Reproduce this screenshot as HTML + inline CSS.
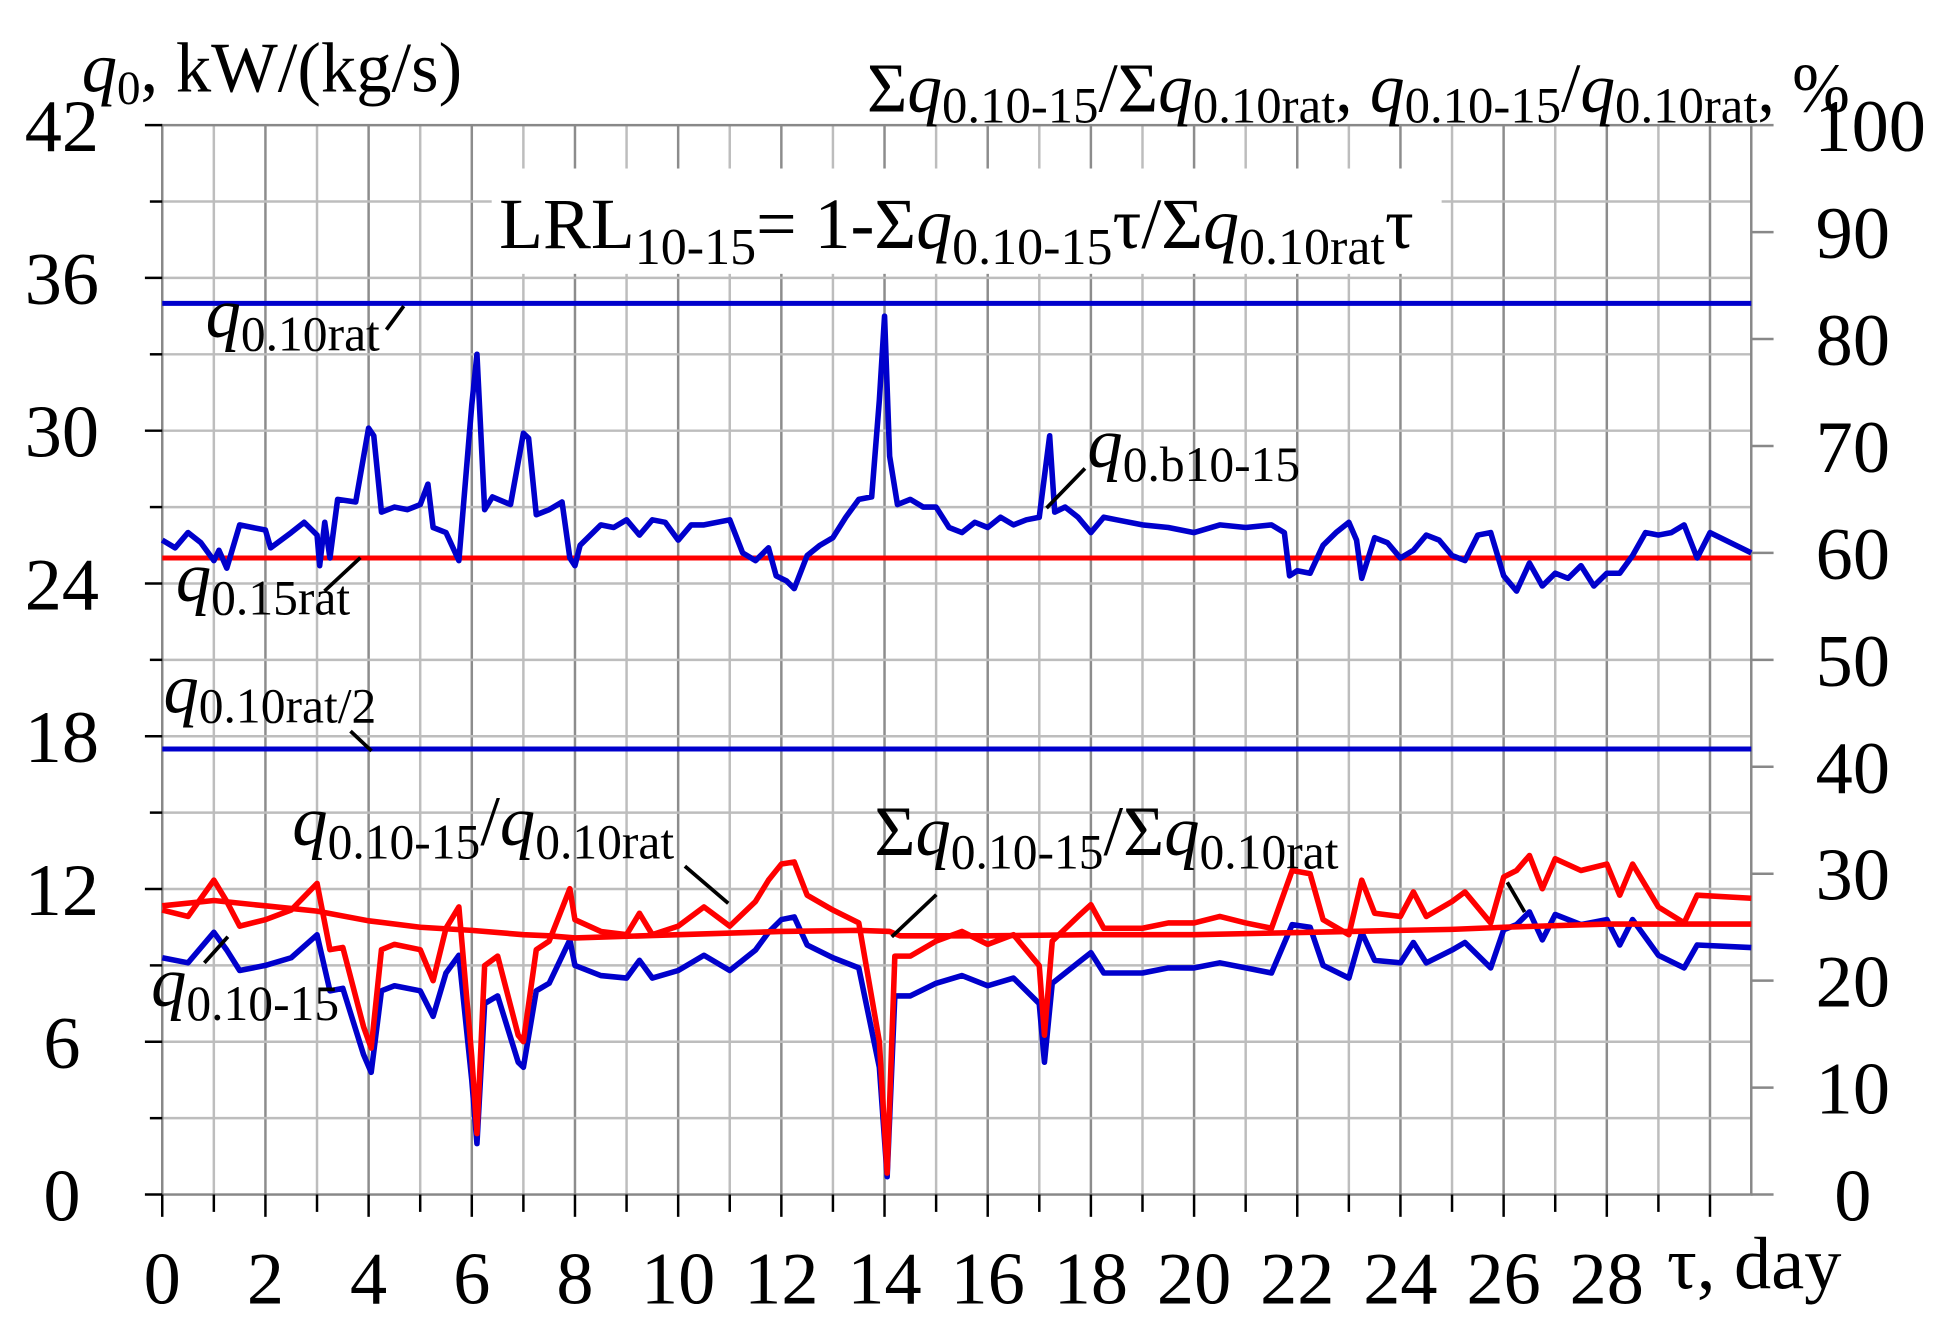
<!DOCTYPE html>
<html><head><meta charset="utf-8">
<style>
html,body{margin:0;padding:0;background:#fff;}
svg{display:block;font-family:"Liberation Serif",serif;}
</style></head>
<body>
<svg id="chart" width="1942" height="1342" viewBox="0 0 1568 1083" preserveAspectRatio="none" xmlns="http://www.w3.org/2000/svg">
<rect x="0" y="0" width="1568" height="1083" fill="#fff"/>
<g id="grid"></g>
<g id="ticks"></g>
<g id="series"></g>
<g id="labels"></g>
</svg>
<script>
// ---- data ----
const xTicks = [0,2,4,6,8,10,12,14,16,18,20,22,24,26,28];
const leftTicks = [0,6,12,18,24,30,36,42];
const rightTicks = [0,10,20,30,40,50,60,70,80,90,100];
const ratedLevels = [35.0, 25.0, 17.5]; // q0.10rat, q0.15rat, q0.10rat/2

const upperDays = [0,0.25,0.5,0.75,1.0,1.1,1.25,1.5,1.75,2.0,2.1,2.5,2.75,3.0,3.05,3.15,3.25,3.4,3.75,4.0,4.1,4.25,4.5,4.75,5.0,5.15,5.25,5.5,5.75,6.0,6.1,6.25,6.4,6.75,7.0,7.1,7.25,7.5,7.75,7.9,8.0,8.1,8.5,8.75,9.0,9.25,9.5,9.75,10.0,10.25,10.5,11.0,11.25,11.5,11.75,11.9,12.1,12.25,12.5,12.75,13.0,13.25,13.5,13.75,13.9,14.0,14.1,14.25,14.5,14.75,15.0,15.25,15.5,15.75,16.0,16.25,16.5,16.75,17.0,17.2,17.3,17.5,17.75,18.0,18.25,18.5,19.0,19.5,20.0,20.5,21.0,21.5,21.75,21.85,22.0,22.25,22.5,22.75,23.0,23.15,23.25,23.5,23.75,24.0,24.25,24.5,24.75,25.0,25.25,25.5,25.75,26.0,26.25,26.5,26.75,27.0,27.25,27.5,27.75,28.0,28.25,28.5,28.75,29.0,29.25,29.5,29.75,30.0,30.8];
const upperValues = [25.7,25.4,26.0,25.6,24.9,25.3,24.6,26.3,26.2,26.1,25.4,26.0,26.4,25.9,24.7,26.4,25.0,27.3,27.2,30.1,29.8,26.8,27.0,26.9,27.1,27.9,26.2,26.0,24.9,31.0,33.0,26.9,27.4,27.1,29.9,29.7,26.7,26.9,27.2,25.0,24.7,25.5,26.3,26.2,26.5,25.9,26.5,26.4,25.7,26.3,26.3,26.5,25.2,24.9,25.4,24.3,24.1,23.8,25.1,25.5,25.8,26.6,27.3,27.4,31.2,34.5,29.0,27.1,27.3,27.0,27.0,26.2,26.0,26.4,26.2,26.6,26.3,26.5,26.6,29.8,26.8,27.0,26.6,26.0,26.6,26.5,26.3,26.2,26.0,26.3,26.2,26.3,26.0,24.3,24.5,24.4,25.5,26.0,26.4,25.7,24.2,25.8,25.6,25.0,25.3,25.9,25.7,25.1,24.9,25.9,26.0,24.3,23.7,24.8,23.9,24.4,24.2,24.7,23.9,24.4,24.4,25.1,26.0,25.9,26.0,26.3,25.0,26.0,25.2];

const lowerDays = [0,0.5,1,1.25,1.5,2,2.5,3,3.25,3.5,3.9,4.05,4.25,4.5,5,5.25,5.5,5.75,6,6.1,6.25,6.5,6.9,7,7.25,7.5,7.9,8,8.5,9,9.25,9.5,10,10.5,11,11.5,11.75,12,12.25,12.5,13,13.5,13.9,14.05,14.2,14.5,15,15.5,16,16.5,17,17.1,17.25,17.75,18,18.25,19,19.5,20,20.5,21,21.5,21.9,22.25,22.5,23,23.25,23.5,24,24.25,24.5,25,25.25,25.75,26,26.25,26.5,26.75,27,27.5,28,28.25,28.5,29,29.5,29.75,30.8];
const lowerValues = [9.3,9.1,10.3,9.6,8.8,9.0,9.3,10.2,8.0,8.1,5.5,4.8,8.0,8.2,8.0,7.0,8.7,9.4,4.5,2.0,7.5,7.8,5.2,5.0,8.0,8.3,10.0,9.0,8.6,8.5,9.2,8.5,8.8,9.4,8.8,9.6,10.3,10.8,10.9,9.8,9.3,8.9,5.0,0.7,7.8,7.8,8.3,8.6,8.2,8.5,7.5,5.2,8.3,9.1,9.5,8.7,8.7,8.9,8.9,9.1,8.9,8.7,10.6,10.5,9.0,8.5,10.3,9.2,9.1,9.9,9.1,9.6,9.9,8.9,10.4,10.6,11.1,10.0,11.0,10.6,10.8,9.8,10.8,9.4,8.9,9.8,9.7];
const ratioPercent = [26.6,26.0,29.4,27.4,25.1,25.7,26.6,29.1,22.9,23.1,15.7,13.7,22.9,23.4,22.9,20.0,24.9,26.9,12.9,5.7,21.4,22.3,14.9,14.3,22.9,23.7,28.6,25.7,24.6,24.3,26.3,24.3,25.1,26.9,25.1,27.4,29.4,30.9,31.1,28.0,26.6,25.4,14.3,2.0,22.3,22.3,23.7,24.6,23.4,24.3,21.4,14.9,23.7,26.0,27.1,24.9,24.9,25.4,25.4,26.0,25.4,24.9,30.3,30.0,25.7,24.3,29.4,26.3,26.0,28.3,26.0,27.4,28.3,25.4,29.7,30.3,31.7,28.6,31.4,30.3,30.9,28.0,30.9,26.9,25.4,28.0,27.7];

const cumDays = [0,1,2,3,4,5,6,7,7.5,8,10,12,13.5,14.1,14.3,16,18,20,22,24,25,26,28,30.8];
const cumPercent = [27.0,27.5,27.0,26.5,25.6,25.0,24.7,24.3,24.2,24.0,24.3,24.6,24.7,24.6,24.2,24.2,24.3,24.3,24.5,24.7,24.8,25.0,25.3,25.3];

// ---- axes ----
const PL=131, PR=1414, PT=101, PB=964;
const X_MAX=30.8;
const xs = d => PL + d/X_MAX*(PR-PL);
const yL = v => PB - v/42*(PB-PT);
const yR = p => PB - p/100*(PB-PT);
const NS='http://www.w3.org/2000/svg';
function mk(tag, attrs, parent){const e=document.createElementNS(NS,tag);for(const k in attrs)e.setAttribute(k,attrs[k]);parent.appendChild(e);return e;}

const grid=document.getElementById('grid');
for(let d=1; d<=30; d++){
  const l=mk('line',{x1:xs(d),x2:xs(d),y1:PT,y2:PB,stroke:d%2===0?'#8c8c8c':'#bdbdbd','stroke-width':2},grid);
  
  
}
for(let v=3; v<42; v+=3){
  const l=mk('line',{x1:PL,x2:PR,y1:yL(v),y2:yL(v),stroke:'#bdbdbd','stroke-width':2},grid);
  
  
}
const fr=mk('rect',{x:PL,y:PT,width:PR-PL,height:PB-PT,fill:'none',stroke:'#888','stroke-width':2},grid);



const ticks=document.getElementById('ticks');
for(let d=0; d<=30; d++){
  const t=mk('line',{x1:xs(d),x2:xs(d),y1:PB,y2:PB+(d%2===0?18:14),stroke:'#000','stroke-width':2},ticks);
  
  
}
for(let v=0; v<=42; v+=3){
  const t=mk('line',{x1:PL-(v%6===0?14:10),x2:PL,y1:yL(v),y2:yL(v),stroke:'#000','stroke-width':2},ticks);
  
  
}
for(const p of rightTicks){
  const t=mk('line',{x1:PR,x2:PR+18,y1:yR(p),y2:yR(p),stroke:'#888','stroke-width':2},ticks);
  
  
}
for(const d of xTicks){
  const t=mk('text',{x:xs(d),y:1052,'font-size':60,'text-anchor':'middle'},ticks);
  t.textContent=d;
  
  
}
for(const v of leftTicks){
  const t=mk('text',{x:50,y:yL(v)+21,'font-size':60,'text-anchor':'middle'},ticks);
  t.textContent=v;
  
  
}
for(const p of rightTicks){
  const t=mk('text',{x:p===100?1510:1496,y:yR(p)+21,'font-size':60,'text-anchor':'middle'},ticks);
  t.textContent=p;
  
  
}

// ---- series ----
const series=document.getElementById('series');
function line(days, vals, yf, color){
  const n=Math.min(days.length, vals.length);
  const pts=[];
  for(let i=0;i<n;i++) pts.push(xs(days[i]).toFixed(1)+','+yf(vals[i]).toFixed(1));
  return mk('polyline',{points:pts.join(' '),fill:'none',stroke:color,'stroke-width':4.5,'stroke-linejoin':'round'},series);
}
const rc=['#0000cc','#ff0000','#0000cc'];
const rn=['q010rat-line','q015rat-line','q010rat-half-line'];
ratedLevels.forEach((v,i)=>{
  const l=mk('line',{x1:PL,x2:PR,y1:yL(v),y2:yL(v),stroke:rc[i],'stroke-width':4},series);
  
  
});
let s;
s=line(upperDays,upperValues,yL,'#0000cc');


s=line(lowerDays,lowerValues,yL,'#0000cc');


s=line(lowerDays,ratioPercent,yR,'#ff0000');


s=line(cumDays,cumPercent,yR,'#ff0000');


</script>
<script>
(function(){
const g=document.getElementById('labels');
g.innerHTML = `
<text x="66" y="74" font-size="57"><tspan font-style="italic">q</tspan><tspan font-size="38" dy="10">0</tspan><tspan dy="-10">, kW/(kg/s)</tspan></text>
<text x="700" y="90" font-size="56">Σ<tspan font-style="italic">q</tspan><tspan font-size="41" dy="9">0.10-15</tspan><tspan dy="-9">/Σ</tspan><tspan font-style="italic">q</tspan><tspan font-size="41" dy="9">0.10rat</tspan><tspan dy="-9">, </tspan><tspan font-style="italic">q</tspan><tspan font-size="41" dy="9">0.10-15</tspan><tspan dy="-9">/</tspan><tspan font-style="italic">q</tspan><tspan font-size="41" dy="9">0.10rat</tspan><tspan dy="-9">, %</tspan></text>
<rect x="397" y="136" width="767" height="85" fill="#fff"/>
<text x="403" y="200" font-size="58">LRL<tspan font-size="42" dy="13">10-15</tspan><tspan dy="-13">= 1-Σ</tspan><tspan font-style="italic">q</tspan><tspan font-size="42" dy="13">0.10-15</tspan><tspan dy="-13">τ/Σ</tspan><tspan font-style="italic">q</tspan><tspan font-size="42" dy="13">0.10rat</tspan><tspan dy="-13">τ</tspan></text>
<text x="166" y="272" font-size="57"><tspan font-style="italic">q</tspan><tspan font-size="40" dy="11">0.10rat</tspan></text>
<line x1="312" y1="266" x2="326" y2="247" stroke="#000" stroke-width="3"/>
<text x="142" y="485" font-size="57"><tspan font-style="italic">q</tspan><tspan font-size="40" dy="11">0.15rat</tspan></text>
<line x1="262" y1="477" x2="291" y2="450" stroke="#000" stroke-width="3"/>
<text x="132" y="575" font-size="57"><tspan font-style="italic">q</tspan><tspan font-size="40" dy="8">0.10rat/2</tspan></text>
<line x1="283" y1="590" x2="300" y2="606" stroke="#000" stroke-width="3"/>
<text x="878" y="377" font-size="57"><tspan font-style="italic">q</tspan><tspan font-size="40" dy="11">0.b10-15</tspan></text>
<line x1="845" y1="410" x2="876" y2="378" stroke="#000" stroke-width="3"/>
<text x="122" y="812" font-size="57"><tspan font-style="italic">q</tspan><tspan font-size="40" dy="11">0.10-15</tspan></text>
<line x1="165" y1="777" x2="184" y2="756" stroke="#000" stroke-width="3"/>
<text x="236" y="682" font-size="57"><tspan font-style="italic">q</tspan><tspan font-size="40" dy="11">0.10-15</tspan><tspan dy="-11">/</tspan><tspan font-style="italic">q</tspan><tspan font-size="40" dy="11">0.10rat</tspan></text>
<line x1="553" y1="699" x2="588" y2="729" stroke="#000" stroke-width="3"/>
<text x="706" y="690" font-size="57">Σ<tspan font-style="italic">q</tspan><tspan font-size="40" dy="11">0.10-15</tspan><tspan dy="-11">/Σ</tspan><tspan font-style="italic">q</tspan><tspan font-size="40" dy="11">0.10rat</tspan></text>
<line x1="720" y1="756" x2="756" y2="722" stroke="#000" stroke-width="3"/>
<line x1="1217" y1="712" x2="1231" y2="736" stroke="#000" stroke-width="3"/>
<text x="1346" y="1040" font-size="60">τ, day</text>
`;
})();
</script>
</body></html>
